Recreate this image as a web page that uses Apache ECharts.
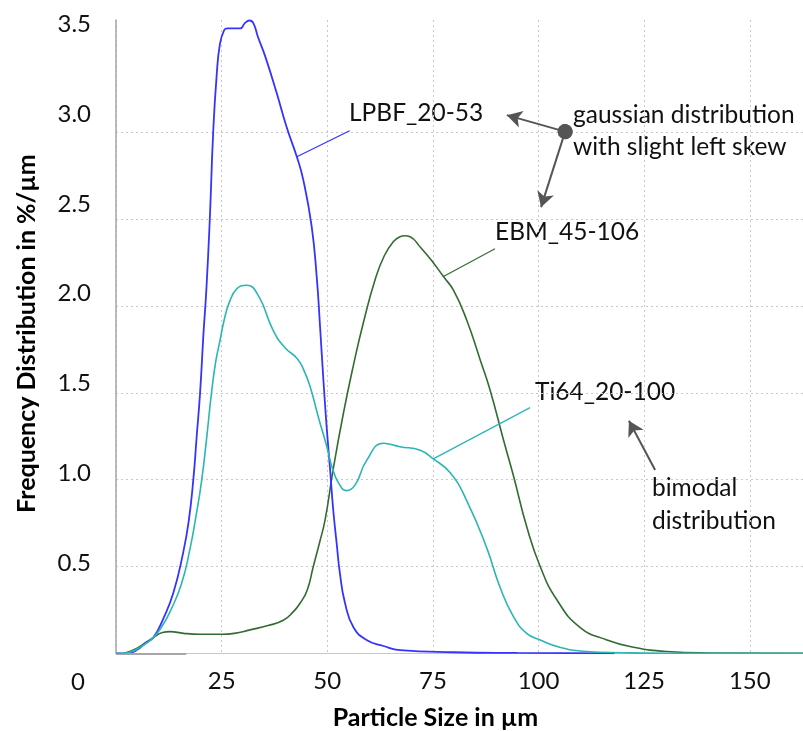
<!DOCTYPE html>
<html>
<head>
<meta charset="utf-8">
<script src="https://cdn.jsdelivr.net/npm/echarts@6/dist/echarts.min.js"></script>
<style>
  html, body { margin: 0; padding: 0; background: #fff; }
  #chart { width: 803px; height: 731px; }
</style>
</head>
<body>
<div id="chart"></div>
<script>
// Particle size distributions (frequency in %/µm over particle size in µm)
const sizeLPBF = [0, 3, 5, 6.9, 8.8, 11.2, 13.6, 15.9, 17.2, 18.3, 19.1, 19.9, 20.7, 21.4, 22.2, 23.0, 23.8, 24.6, 25.6, 26.4, 29.4, 30.5, 31.6, 32.5, 33.6, 35.3, 38.0, 40.4, 42.8, 44.3, 46.3, 47.5, 48.3, 49.1, 49.9, 50.7, 51.4, 52.2, 53.0, 54.2, 56.2, 59.3, 63.3, 67.2, 80, 95, 118];
const freqLPBF = [0, 0, 0.02, 0.058, 0.09, 0.2, 0.35, 0.58, 0.76, 1.0, 1.25, 1.5, 1.84, 2.1, 2.5, 3.0, 3.32, 3.51, 3.59, 3.60, 3.60, 3.63, 3.645, 3.63, 3.55, 3.44, 3.23, 3.03, 2.86, 2.73, 2.46, 2.17, 1.88, 1.57, 1.29, 1.05, 0.83, 0.64, 0.46, 0.29, 0.15, 0.077, 0.042, 0.018, 0.006, 0.002, 0];

const sizeEBM = [2, 5, 8.8, 11, 12.8, 16, 19.9, 25, 28, 31.7, 36, 39.6, 42, 43.6, 45.2, 46.7, 48.2, 49.5, 51.4, 53.8, 56.2, 58.5, 61.3, 63.5, 65.6, 67.2, 68.4, 69.6, 72, 75.1, 77.5, 79.9, 83, 86.2, 88.5, 91.7, 94.1, 97.2, 100.4, 104.3, 109.8, 116.2, 122.5, 130.4, 140, 162.6];
const freqEBM = [0, 0.03, 0.09, 0.12, 0.125, 0.115, 0.11, 0.11, 0.115, 0.135, 0.16, 0.19, 0.24, 0.29, 0.36, 0.5, 0.64, 0.77, 1.06, 1.38, 1.66, 1.9, 2.15, 2.29, 2.37, 2.40, 2.405, 2.40, 2.34, 2.25, 2.17, 2.09, 1.92, 1.69, 1.52, 1.23, 1.02, 0.73, 0.50, 0.31, 0.15, 0.077, 0.035, 0.01, 0.002, 0];

const sizeTi64 = [0, 3, 6, 8.8, 11, 13, 15.5, 17.5, 19, 20.3, 21.5, 22.6, 23.6, 24.6, 25.6, 26.8, 28.6, 30.9, 33.7, 37.2, 40.0, 42.8, 44.3, 45.9, 47.9, 49.9, 51.1, 52.7, 54.6, 56.6, 59.3, 63.3, 67.2, 72, 75.1, 79.1, 83, 87.7, 90.9, 94.1, 97.2, 100.4, 105, 111.4, 120, 130, 162.6];
const freqTi64 = [0, 0.005, 0.04, 0.09, 0.16, 0.25, 0.40, 0.6, 0.8, 1.0, 1.25, 1.50, 1.68, 1.80, 1.92, 2.02, 2.10, 2.12, 2.06, 1.86, 1.76, 1.70, 1.64, 1.54, 1.36, 1.19, 1.075, 0.98, 0.937, 0.97, 1.11, 1.21, 1.19, 1.17, 1.12, 1.04, 0.88, 0.61, 0.38, 0.21, 0.115, 0.077, 0.035, 0.01, 0.003, 0, 0];

const seriesNames = ['LPBF_20-53', 'EBM_45-106', 'Ti64_20-100'];
const xTicks = [0, 25, 50, 75, 100, 125, 150];
const yTicks = [0, 0.5, 1.0, 1.5, 2.0, 2.5, 3.0, 3.5];

const FONT = 'Lato';
const ARROW = '#555555';
const TEXT = '#111111';

function pairs(xs, ys) { return xs.map((x, i) => [x, ys[i]]); }

const chart = echarts.init(document.getElementById('chart'), null, { renderer: 'canvas' });

// leader line from a point on the curve to its name label
function leader(color, curvePoint, labelEnd) {
  return {
    silent: true, symbol: ['none', 'none'], animation: false,
    lineStyle: { color: color, width: 1.2, type: 'solid' },
    label: { show: false },
    data: [[{ coord: curvePoint }, { coord: labelEnd }]]
  };
}

const lineBase = { type: 'line', showSymbol: false, smooth: 0.5, animation: false, xAxisIndex: 0, yAxisIndex: 0 };

chart.setOption({
  backgroundColor: '#ffffff',
  textStyle: { fontFamily: FONT },
  grid: { left: 116, right: 0, top: 20, bottom: 77.7, outerBoundsMode: 'none' },
  xAxis: [{
    type: 'value', min: 0, max: 162.6, interval: 25,
    name: 'Particle Size in µm', nameLocation: 'middle', nameGap: 52,
    nameTextStyle: { fontFamily: FONT, fontWeight: 'bold', fontSize: 25, color: '#000', padding: [0, 48, 0, 0] },
    axisLine: { show: true, lineStyle: { color: '#c8c8c8', width: 1 } },
    axisTick: { show: false },
    axisLabel: {
      fontFamily: FONT, fontSize: 24, color: TEXT, margin: 16,
      customValues: xTicks.slice(1),
      formatter: v => String(v)
    },
    splitLine: { show: true, lineStyle: { color: '#c8c8c8', type: [2, 3], width: 1 } }
  }],
  yAxis: [{
    // value scale of the curves and its grid
    type: 'value', min: 0, max: 3.648, interval: 0.5, position: 'left',
    name: 'Frequency Distribution in %/µm', nameLocation: 'middle', nameGap: 77, nameRotate: 90,
    nameTextStyle: { fontFamily: FONT, fontWeight: 'bold', fontSize: 25, color: '#000', padding: [0, 0, 0, 6] },
    axisLine: { show: true, lineStyle: { color: '#a6a6a6', width: 1.5 } },
    axisTick: { show: false, customValues: yTicks.slice(0, 7) },
    axisLabel: { show: false },
    splitLine: { show: true, lineStyle: { color: '#c8c8c8', type: [2, 3], width: 1 } }
  }, {
    // tick labels column
    type: 'value', min: 0, max: 3.522, interval: 0.5, position: 'left', offset: 0,
    axisLine: { show: false }, axisTick: { show: false }, splitLine: { show: false },
    axisLabel: {
      fontFamily: FONT, fontSize: 24, color: TEXT, margin: 25,
      customValues: yTicks.slice(1),
      formatter: v => v.toFixed(1)
    }
  }],
  graphic: [
    { type: 'text', x: 78, y: 682, style: { text: '0', fontFamily: FONT, fontSize: 24, fill: TEXT, align: 'center', verticalAlign: 'middle' } },
    { type: 'text', x: 349, y: 113, style: { text: seriesNames[0], fontFamily: FONT, fontSize: 24.5, fill: TEXT, verticalAlign: 'middle' } },
    { type: 'text', x: 495, y: 232, style: { text: seriesNames[1], fontFamily: FONT, fontSize: 24.5, fill: TEXT, verticalAlign: 'middle' } },
    { type: 'text', x: 535, y: 392, style: { text: seriesNames[2], fontFamily: FONT, fontSize: 24.5, fill: TEXT, verticalAlign: 'middle' } },
    { type: 'text', x: 573, y: 99, style: { text: 'gaussian distribution\nwith slight left skew', fontFamily: FONT, fontSize: 24.5, lineHeight: 32, fill: TEXT } },
    { type: 'text', x: 652, y: 472, style: { text: 'bimodal\ndistribution', fontFamily: FONT, fontSize: 24.5, lineHeight: 33, fill: TEXT } }
  ],
  series: [
    Object.assign({}, lineBase, {
      name: seriesNames[0], data: pairs(sizeLPBF, freqLPBF), z: 4,
      lineStyle: { color: '#3434ff', width: 1.8 }, itemStyle: { color: '#3434ff' },
      markLine: leader('#3434ff', [sizeLPBF[28], freqLPBF[28]], [55.3, 3.01])
    }),
    Object.assign({}, lineBase, {
      name: seriesNames[1], data: pairs(sizeEBM, freqEBM), z: 3,
      lineStyle: { color: '#336b33', width: 1.6 }, itemStyle: { color: '#336b33' },
      markLine: leader('#336b33', [sizeEBM[30], freqEBM[30]], [89.7, 2.33])
    }),
    Object.assign({}, lineBase, {
      name: seriesNames[2], data: pairs(sizeTi64, freqTi64), z: 5,
      lineStyle: { color: '#2bb5b5', width: 1.6 }, itemStyle: { color: '#2bb5b5' },
      markLine: leader('#2bb5b5', [sizeTi64[34], freqTi64[34]], [98.0, 1.415])
    }),
    {
      // annotation arrows and the short dark baseline segment
      type: 'line', data: [], silent: true, animation: false,
      markLine: {
        silent: true, animation: false, label: { show: false },
        lineStyle: { color: ARROW, width: 2, type: 'solid' },
        data: [
          [{ coord: [106.3, 3.005], symbol: 'circle', symbolSize: 15 }, { coord: [92.5, 3.10], symbol: 'arrow', symbolSize: [13, 15] }],
          [{ coord: [106.3, 3.005], symbol: 'circle', symbolSize: 15 }, { coord: [100.6, 2.57], symbol: 'arrow', symbolSize: [13, 15] }],
          [{ coord: [127.6, 1.056], symbol: 'none' }, { coord: [121.4, 1.34], symbol: 'arrow', symbolSize: [13, 15] }],
          [{ coord: [0, 0], symbol: 'none', lineStyle: { color: '#a6a6a6', width: 2 } }, { coord: [16.6, 0], symbol: 'none' }]
        ]
      }
    }
  ]
});
</script>
</body>
</html>
